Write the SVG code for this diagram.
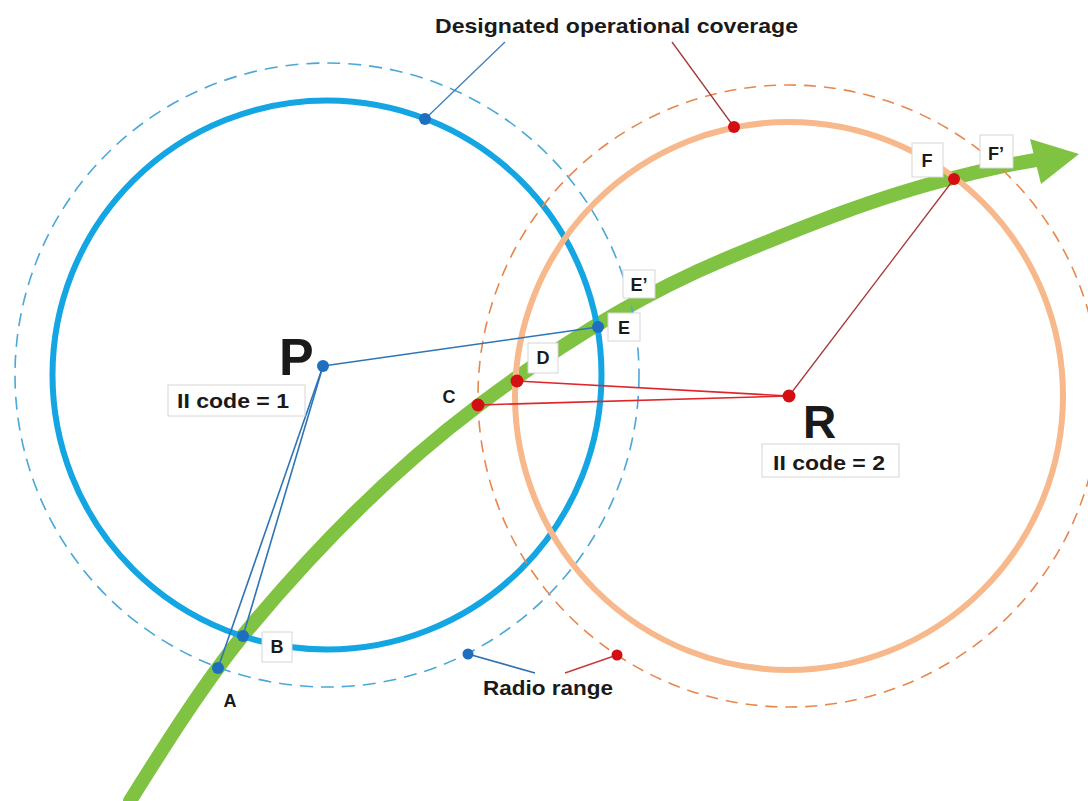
<svg xmlns="http://www.w3.org/2000/svg" width="1088" height="801" viewBox="0 0 1088 801">
<style>
.lbl{font-family:"Liberation Sans",Arial,sans-serif;font-weight:bold;fill:#1a1a1a}
.box{fill:#ffffff;stroke:#d6d6d6;stroke-width:1}
.bdot{fill:#1f6fbf}
.rdot{fill:#d40f14}
</style>
<rect width="1088" height="801" fill="#ffffff"/>
<g id="route">
<path d="M130,801 C168,740 207,679 245,633 C323,539 401,463.5 479,405 C560,344 642,294 723,260 C800,228 876,197 953,178 C981,171 1010,164 1036,160" fill="none" stroke="#80c342" stroke-width="14" stroke-linecap="round"/>
<polygon points="1030,139 1079,154 1041,184" fill="#80c342"/>
</g>
<g id="P-coverage">
<circle cx="327" cy="375" r="312" fill="none" stroke="#4aa8d8" stroke-width="1.6" stroke-dasharray="13 8"/>
<circle cx="327" cy="375" r="274.5" fill="none" stroke="#14a5e3" stroke-width="6"/>
</g>
<g id="R-coverage">
<circle cx="789" cy="396" r="311" fill="none" stroke="#e8874c" stroke-width="1.6" stroke-dasharray="12 8"/>
<circle cx="789" cy="396" r="274" fill="none" stroke="#f7b98c" stroke-width="6"/>
</g>
<g id="connectors" fill="none">
<line x1="505" y1="42" x2="425" y2="119" stroke="#3f7fb8" stroke-width="1.3"/>
<line x1="672" y1="42" x2="734" y2="127" stroke="#a33a3e" stroke-width="1.3"/>
<line x1="468" y1="654" x2="535" y2="673" stroke="#2e6fad" stroke-width="1.6"/>
<line x1="617" y1="655" x2="565" y2="673" stroke="#c83a3e" stroke-width="1.6"/>
<line x1="323" y1="366" x2="598" y2="327" stroke="#2e75b6" stroke-width="1.6"/>
<line x1="323" y1="366" x2="218" y2="668" stroke="#2e75b6" stroke-width="1.6"/>
<line x1="323" y1="366" x2="243" y2="636" stroke="#2e75b6" stroke-width="1.6"/>
<line x1="789" y1="396" x2="517" y2="381" stroke="#e0262b" stroke-width="1.6"/>
<line x1="789" y1="396" x2="478" y2="405" stroke="#e0262b" stroke-width="1.6"/>
<line x1="789" y1="396" x2="954" y2="179" stroke="#a8383c" stroke-width="1.3"/>
</g>
<g id="dots">
<circle class="bdot" cx="425" cy="119" r="6"/>
<circle class="bdot" cx="323" cy="366" r="6"/>
<circle class="bdot" cx="598" cy="327" r="6"/>
<circle class="bdot" cx="243" cy="636" r="6"/>
<circle class="bdot" cx="218" cy="668" r="6"/>
<circle class="bdot" cx="468" cy="654" r="5.5"/>
<circle class="rdot" cx="734" cy="127" r="6"/>
<circle class="rdot" cx="954" cy="179" r="6"/>
<circle class="rdot" cx="517" cy="381" r="6.5"/>
<circle class="rdot" cx="478" cy="405" r="6.5"/>
<circle class="rdot" cx="789" cy="396" r="6.5"/>
<circle class="rdot" cx="617" cy="655" r="5.5"/>
</g>
<g id="title-label">
<text class="lbl" x="435" y="33" font-size="21" textLength="363" lengthAdjust="spacingAndGlyphs">Designated operational coverage</text>
</g>
<g id="radio-label">
<text class="lbl" x="483" y="695" font-size="20" textLength="130" lengthAdjust="spacingAndGlyphs">Radio range</text>
</g>
<g id="node-P">
<text class="lbl" x="279" y="375" font-size="52">P</text>
<rect class="box" x="168" y="385" width="137" height="31"/>
<text class="lbl" x="177" y="408" font-size="21" textLength="112" lengthAdjust="spacingAndGlyphs">II code = 1</text>
</g>
<g id="node-R">
<text class="lbl" x="803" y="438" font-size="46">R</text>
<rect class="box" x="762" y="444" width="137" height="33"/>
<text class="lbl" x="773" y="470" font-size="21" textLength="112" lengthAdjust="spacingAndGlyphs">II code = 2</text>
</g>
<g id="point-A"><text class="lbl" x="230" y="707" font-size="18" text-anchor="middle">A</text></g>
<g id="point-B"><rect class="box" x="262" y="632" width="30" height="30"/><text class="lbl" x="277" y="653" font-size="18" text-anchor="middle">B</text></g>
<g id="point-C"><text class="lbl" x="449" y="403" font-size="18" text-anchor="middle">C</text></g>
<g id="point-D"><rect class="box" x="528" y="343" width="30" height="30"/><text class="lbl" x="543" y="364" font-size="18" text-anchor="middle">D</text></g>
<g id="point-E"><rect class="box" x="608" y="313" width="32" height="28"/><text class="lbl" x="624" y="334" font-size="18" text-anchor="middle">E</text></g>
<g id="point-E2"><rect class="box" x="623" y="270" width="32" height="28"/><text class="lbl" x="639" y="291" font-size="18" text-anchor="middle">E’</text></g>
<g id="point-F"><rect class="box" x="912" y="143" width="31" height="34"/><text class="lbl" x="927" y="167" font-size="18" text-anchor="middle">F</text></g>
<g id="point-F2"><rect class="box" x="980" y="135" width="33" height="33"/><text class="lbl" x="996" y="160" font-size="18" text-anchor="middle">F’</text></g>
</svg>
